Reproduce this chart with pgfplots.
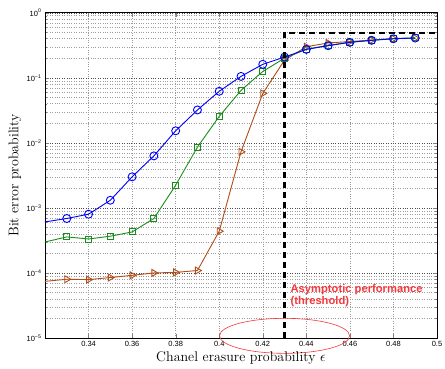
\documentclass[border=0pt]{standalone}
\usepackage{pgfplots}
\pgfplotsset{compat=1.18}
\usepackage{fontspec}
\newfontfamily\hel{Liberation Sans}
\definecolor{mblue}{rgb}{0,0,1}
\definecolor{mgreen}{rgb}{0.1,0.55,0.1}
\definecolor{mbrown}{rgb}{0.7,0.3,0.1}
\definecolor{mred}{rgb}{0.96,0.22,0.24}
\begin{document}
\begin{tikzpicture}
\begin{axis}[
  scale only axis,
  width=392pt, height=325.3pt,
  xmin=0.32, xmax=0.5,
  ymode=log, ymin=1e-5, ymax=1,
  xtick={0.32,0.34,0.36,0.38,0.40,0.42,0.44,0.46,0.48,0.5},
  xticklabels={,0.34,0.36,0.38,0.4,0.42,0.44,0.46,0.48,0.5},
  ytick={1e-5,1e-4,1e-3,1e-2,1e-1,1},
  yticklabels={10\textsuperscript{−5},10\textsuperscript{−4},10\textsuperscript{−3},10\textsuperscript{−2},10\textsuperscript{−1},10\textsuperscript{0}},
  ticklabel style={font=\hel\fontsize{7.5}{9}\selectfont},
  tick align=inside,
  major tick length=4pt, minor tick length=2pt,
  grid=both,
  major grid style={dotted, black!70},
  minor grid style={dotted, black!38},
  x grid style={dotted, black!40},
  axis line style={line width=0.9pt},
  xlabel={Chanel erasure probability $\epsilon$},
  ylabel={Bit error probability},
  label style={font=\fontsize{14}{16}\selectfont},
  xlabel style={yshift=2pt},
  ylabel style={yshift=-1.5pt},
  clip mode=individual,
]
\addplot[mbrown, line width=0.9pt, mark=triangle, mark size=4pt, mark options={rotate=-90, solid}] coordinates {
(0.31,6.9e-5) (0.33,8.0e-5) (0.34,7.9e-5) (0.35,8.5e-5) (0.36,9.2e-5) (0.37,1.0e-4) (0.38,1.02e-4) (0.39,1.09e-4)
(0.40,4.38e-4) (0.41,7.27e-3) (0.42,5.75e-2) (0.43,0.187) (0.44,0.30) (0.45,0.343) (0.46,0.36) (0.47,0.38) (0.48,0.398) (0.49,0.408)};
\addplot[mgreen, line width=0.9pt, mark=square, mark size=3pt, mark options={solid}] coordinates {
(0.31,2.5e-4) (0.33,3.58e-4) (0.34,3.33e-4) (0.35,3.67e-4) (0.36,4.27e-4) (0.37,6.87e-4) (0.38,2.23e-3) (0.39,8.6e-3)
(0.40,2.55e-2) (0.41,6.4e-2) (0.42,0.125) (0.43,0.2) (0.44,0.275) (0.45,0.315) (0.46,0.352) (0.47,0.378) (0.48,0.4) (0.49,0.41)};
\addplot[mblue, line width=0.9pt, mark=o, mark size=4pt, mark options={solid}] coordinates {
(0.31,5.4e-4) (0.33,6.87e-4) (0.34,8.0e-4) (0.35,1.31e-3) (0.36,3.0e-3) (0.37,6.3e-3) (0.38,1.53e-2) (0.39,3.2e-2)
(0.40,6.2e-2) (0.41,0.105) (0.42,0.161) (0.43,0.208) (0.44,0.273) (0.45,0.311) (0.46,0.35) (0.47,0.376) (0.48,0.398) (0.49,0.408)};
\addplot[black, line width=2.2pt, dash pattern=on 6pt off 4pt, mark=none] coordinates {(0.43,1e-5) (0.43,0.49) (0.5,0.49)};
\node[anchor=north west, align=left, text=mred, font=\hel\bfseries\fontsize{11.2}{12}\selectfont, inner sep=0pt]
  at (axis cs:0.4327,6.7e-5) {Asymptotic performance\\(threshold)};
\draw[mred, line width=0.6pt] (axis cs:0.43,1.08e-5) ellipse [x radius=65pt, y radius=17.5pt];
\coordinate (bl) at (rel axis cs:0,0);
\end{axis}
\pgfresetboundingbox
\path[use as bounding box] (bl) ++(-45pt,-30pt) rectangle ++(445pt,368pt);
\end{tikzpicture}
\end{document}
